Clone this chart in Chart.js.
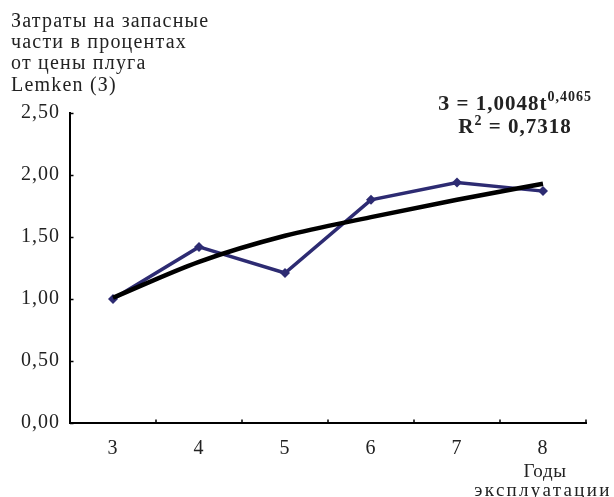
<!DOCTYPE html>
<html>
<head>
<meta charset="utf-8">
<script src="https://cdn.jsdelivr.net/npm/chart.js@4.4.1/dist/chart.umd.min.js"></script>
<style>
  html, body { margin: 0; padding: 0; background: #fff; }
  #wrap { width: 614px; height: 497px; }
</style>
</head>
<body>
<div id="wrap"><canvas id="c" width="614" height="497"></canvas></div>
<script>
// Years of operation (x categories)
const years = ['3', '4', '5', '6', '7', '8'];
// Spare parts cost, % of plough price
const sparePartsCost = [1.00, 1.42, 1.21, 1.80, 1.94, 1.87];
// Power trend line values at each year
const trendValues = [1.01, 1.30, 1.51, 1.66, 1.80, 1.93];
// Y axis ticks
const yTicks = [0, 0.5, 1.0, 1.5, 2.0, 2.5];

const yTitleLines = ['Затраты на запасные', 'части в процентах', 'от цены плуга', 'Lemken (З)'];
const xTitleLines = ['Годы', 'эксплуатации'];
const SERIF = '"Liberation Serif", "Times New Roman", serif';
const TEXT = '#222';

const fmt = v => v.toFixed(2).replace('.', ',');

// Slightly spaced lettering for the axis tick labels
const spacing = {
  id: 'spacing',
  beforeDraw(chart) { chart.ctx.letterSpacing = '1px'; }
};

// Inward tick marks on both axes plus the free text labels
const decorations = {
  id: 'decorations',
  afterDraw(chart) {
    const ctx = chart.ctx;
    const x = chart.scales.x, y = chart.scales.y;
    ctx.save();
    ctx.strokeStyle = '#000';
    ctx.lineWidth = 1.5;
    ctx.beginPath();
    yTicks.forEach(v => {
      const py = Math.round(y.getPixelForValue(v)) + 0.5;
      ctx.moveTo(x.left, py);
      ctx.lineTo(x.left + 3.5, py);
    });
    const n = years.length;
    const step = (x.right - x.left) / n;
    for (let k = 1; k <= n; k++) {
      const px = x.left + k * step;
      ctx.moveTo(px, y.bottom);
      ctx.lineTo(px, y.bottom - 3.5);
    }
    ctx.stroke();

    ctx.fillStyle = TEXT;
    ctx.textBaseline = 'alphabetic';
    ctx.textAlign = 'left';
    ctx.font = '20px ' + SERIF;
    ctx.letterSpacing = '1.2px';
    const yBases = [27, 48, 69, 90.5];
    yTitleLines.forEach((t, i) => ctx.fillText(t, 11, yBases[i]));

    ctx.textAlign = 'center';
    ctx.font = '19px ' + SERIF;
    ctx.letterSpacing = '0.6px';
    ctx.fillText(xTitleLines[0], 545, 477);
    ctx.letterSpacing = '2.3px';
    ctx.fillText(xTitleLines[1], 543, 496);

    // Regression equation
    ctx.textAlign = 'left';
    ctx.letterSpacing = '1px';
    const big = 'bold 21px ' + SERIF, small = 'bold 14px ' + SERIF;
    const parts1 = [['З = 1,0048t', big, 0], ['0,4065', small, -9]];
    const parts2 = [['R', big, 0], ['2', small, -8], [' = 0,7318', big, 0]];
    const drawParts = (parts, cx, base) => {
      let w = 0;
      parts.forEach(p => { ctx.font = p[1]; w += ctx.measureText(p[0]).width; });
      let px = cx - w / 2;
      parts.forEach(p => {
        ctx.font = p[1];
        ctx.fillText(p[0], px, base + p[2]);
        px += ctx.measureText(p[0]).width;
      });
    };
    drawParts(parts1, 515, 110);
    drawParts(parts2, 515, 133);
    ctx.restore();
  }
};

new Chart(document.getElementById('c'), {
  type: 'line',
  data: {
    labels: years,
    datasets: [
      {
        label: 'Затраты',
        data: sparePartsCost,
        borderColor: '#2d2b72',
        backgroundColor: '#2d2b72',
        borderWidth: 3.5,
        pointStyle: 'rectRot',
        pointRadius: 5,
        pointBorderWidth: 0,
        tension: 0,
        order: 2
      },
      {
        label: 'Тренд',
        data: trendValues,
        borderColor: '#000',
        borderWidth: 4.5,
        pointRadius: 0,
        cubicInterpolationMode: 'monotone',
        order: 1
      }
    ]
  },
  options: {
    responsive: false,
    animation: false,
    devicePixelRatio: 1,
    layout: { padding: { top: 113, right: 28, bottom: 0, left: 0 } },
    plugins: { legend: { display: false }, title: { display: false }, tooltip: { enabled: false } },
    scales: {
      x: {
        offset: true,
        grid: { display: false, drawTicks: false },
        border: { display: true, color: '#000', width: 2 },
        ticks: { color: TEXT, font: { family: SERIF, size: 20 }, padding: 14 },
        afterFit(s) { s.height = 74; }
      },
      y: {
        min: 0,
        max: 2.5,
        afterBuildTicks(s) { s.ticks = yTicks.map(v => ({ value: v })); },
        grid: { display: false, drawTicks: false },
        border: { display: true, color: '#000', width: 2 },
        ticks: { color: TEXT, font: { family: SERIF, size: 20 }, padding: 10, callback: v => fmt(v) },
        afterFit(s) { s.width = 70; }
      }
    }
  },
  plugins: [spacing, decorations]
});
</script>
</body>
</html>
